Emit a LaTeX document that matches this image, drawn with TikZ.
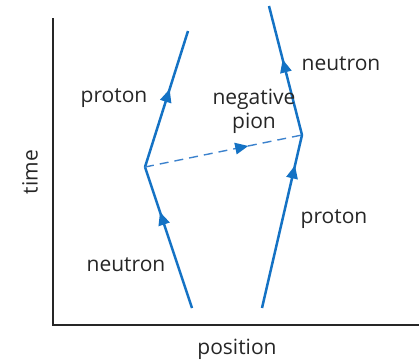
\documentclass[tikz,border=0pt]{standalone}
\usepackage{fontspec}
\setmainfont{Open Sans}
\usetikzlibrary{arrows.meta,decorations.markings}
\definecolor{wl}{RGB}{20,114,196}
\definecolor{pi}{RGB}{60,130,205}
\tikzset{
  world/.style={draw=wl,line width=2.5pt},
  pion/.style={draw=pi,line width=1.4pt,dash pattern=on 9pt off 6pt},
  midarrow/.style={postaction={decorate},decoration={markings,
     mark=at position #1 with {\fill[wl] (6pt,0) -- (-7pt,6pt) -- (-7pt,-6pt) -- cycle;}}},
  lbl/.style={font=\fontsize{21}{24}\selectfont,text=black!85,inner sep=0pt},
  axis/.style={draw=black!85,line width=1.8pt}
}
\begin{document}
\begin{tikzpicture}[x=1pt,y=-1pt]
\useasboundingbox (0,0) rectangle (419,362);
\coordinate (o) at (53,325);
\coordinate (ytop) at (53,18);
\coordinate (xend) at (419,325);
\draw[axis] (ytop) -- (o) -- (xend);
\coordinate (a0) at (192,308);
\coordinate (a1) at (145,167);
\coordinate (a2) at (188,31);
\coordinate (b0) at (262,308);
\coordinate (b1) at (302,135);
\coordinate (b2) at (269,6);
\draw[world,midarrow=0.64] (a0) -- (a1);
\draw[world,midarrow=0.53] (a1) -- (a2);
\draw[world,midarrow=0.79] (b0) -- (b1);
\draw[world,midarrow=0.54] (b1) -- (b2);
\draw[pion] (a1) -- (b1);
\path[midarrow=0.62] (a1) -- (b1);
\node[lbl] (l1) at (114,98) {proton};
\node[lbl,align=center] (l2) at (254,111) {negative\\pion};
\node[lbl] (l3) at (341,64) {neutron};
\node[lbl] (l4) at (334,219) {proton};
\node[lbl] (l5) at (126,265) {neutron};
\node[lbl,rotate=90] (l6) at (30,172) {time};
\node[lbl] (l7) at (237,349) {position};
\end{tikzpicture}
\end{document}
